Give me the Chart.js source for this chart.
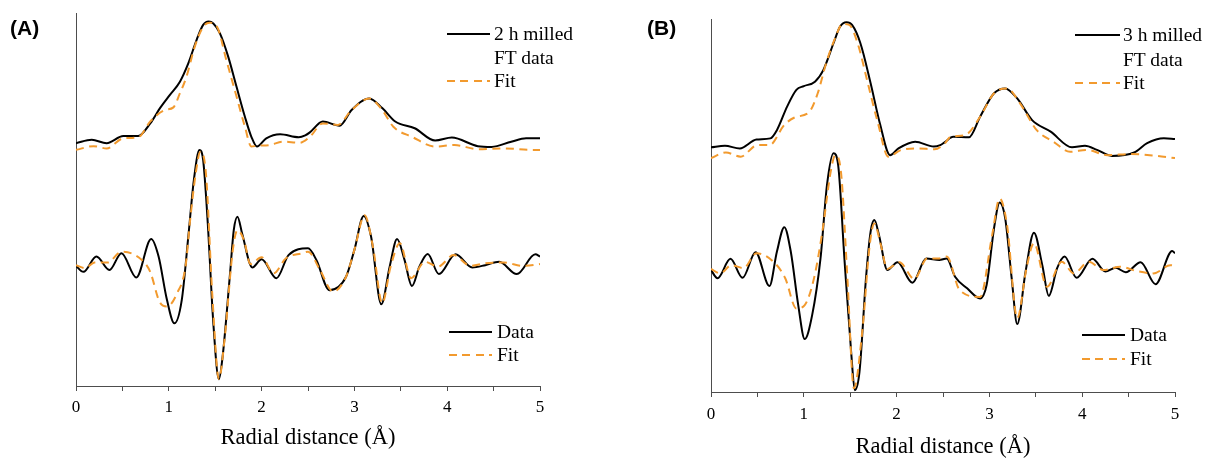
<!DOCTYPE html>
<html>
<head>
<meta charset="utf-8">
<script src="https://cdn.jsdelivr.net/npm/chart.js@4.4.1/dist/chart.umd.min.js"></script>
<style>
  html, body { margin: 0; padding: 0; background: #fff; overflow: hidden; }
  #wrap { position: relative; width: 1206px; height: 458px; }
  .panel { position: absolute; top: 0; height: 458px; }
  .tag { position: absolute; font: bold 21px "Liberation Sans", Arial, sans-serif; color: #000; line-height: 24px; }
  .leg { position: absolute; font: 19.5px "Liberation Serif", "Times New Roman", serif; color: #000; line-height: 22px; white-space: nowrap; }
  .solid { position: absolute; height: 2px; background: #000; }
  .dash { position: absolute; height: 2px; background: repeating-linear-gradient(to right, #F29A2E 0 8px, transparent 8px 13.5px); }
</style>
</head>
<body>
<div id="wrap">
  <div class="panel" style="left:0;width:600px"><canvas id="chartA"></canvas></div>
  <div class="panel" style="left:630px;width:576px"><canvas id="chartB"></canvas></div>

  <div class="tag" style="left:10px;top:16px">(A)</div>
  <div class="tag" style="left:647px;top:16px">(B)</div>

  <!-- legends panel A -->
  <div class="solid" style="left:447px;top:33px;width:43px"></div>
  <div class="leg" style="left:494px;top:23px">2 h milled</div>
  <div class="leg" style="left:494px;top:47px">FT data</div>
  <div class="dash" style="left:447px;top:80px;width:43px"></div>
  <div class="leg" style="left:494px;top:70px">Fit</div>
  <div class="solid" style="left:449px;top:331px;width:43px"></div>
  <div class="leg" style="left:497px;top:321px">Data</div>
  <div class="dash" style="left:449px;top:354px;width:43px"></div>
  <div class="leg" style="left:497px;top:344px">Fit</div>

  <!-- legends panel B -->
  <div class="solid" style="left:1075px;top:34px;width:45px"></div>
  <div class="leg" style="left:1123px;top:24px">3 h milled</div>
  <div class="leg" style="left:1123px;top:49px">FT data</div>
  <div class="dash" style="left:1075px;top:82px;width:45px"></div>
  <div class="leg" style="left:1123px;top:72px">Fit</div>
  <div class="solid" style="left:1082px;top:334px;width:43px"></div>
  <div class="leg" style="left:1130px;top:324px">Data</div>
  <div class="dash" style="left:1082px;top:358px;width:43px"></div>
  <div class="leg" style="left:1130px;top:348px">Fit</div>
</div>

<script>
// (A) 2 h milled - FT magnitude (offset upward) and real part
const aMagR = [0, 0.17, 0.33, 0.51, 0.67, 0.80, 0.905, 1.01, 1.12, 1.21, 1.30, 1.37, 1.43, 1.48, 1.55, 1.64, 1.73, 1.82, 1.89, 1.95, 2.05, 2.20, 2.40, 2.47, 2.52, 2.66, 2.84, 2.97, 3.16, 3.30, 3.44, 3.65, 3.87, 4.05, 4.33, 4.48, 4.69, 4.85, 5.0];
const aMag = [65.1, 66.0, 65.1, 67.0, 67.0, 70.4, 74.5, 78.0, 81.6, 86.5, 92.8, 96.8, 97.7, 97.2, 94.6, 88.3, 80.2, 72.2, 66.8, 64.2, 66.4, 67.5, 66.7, 67.2, 68.0, 70.9, 69.8, 74.0, 77.1, 74.5, 70.9, 69.1, 65.8, 66.6, 64.3, 64.1, 65.5, 66.4, 66.4];
const aMagFitR = [0, 0.19, 0.33, 0.51, 0.67, 0.80, 0.96, 1.05, 1.12, 1.19, 1.28, 1.37, 1.44, 1.52, 1.62, 1.73, 1.82, 1.89, 1.95, 2.09, 2.23, 2.41, 2.52, 2.66, 2.82, 2.97, 3.16, 3.30, 3.42, 3.62, 3.87, 4.08, 4.33, 4.62, 4.91, 5.0];
const aMagFit = [63.3, 64.3, 63.7, 66.4, 66.7, 70.9, 74.0, 74.7, 78.5, 82.9, 91.0, 96.3, 97.4, 96.3, 87.4, 77.6, 69.5, 64.2, 64.4, 64.6, 65.5, 65.2, 66.8, 70.4, 70.0, 74.0, 77.1, 74.0, 69.5, 66.8, 64.2, 64.6, 63.5, 63.7, 63.3, 63.3];
const aReR = [0, 0.08, 0.22, 0.36, 0.49, 0.65, 0.81, 0.89, 0.98, 1.06, 1.14, 1.21, 1.27, 1.33, 1.37, 1.42, 1.48, 1.54, 1.58, 1.66, 1.70, 1.74, 1.79, 1.90, 2.00, 2.16, 2.29, 2.50, 2.59, 2.73, 2.91, 3.00, 3.10, 3.18, 3.29, 3.38, 3.46, 3.54, 3.62, 3.70, 3.79, 3.91, 4.09, 4.27, 4.41, 4.56, 4.75, 4.95, 5.0];
const aRe = [32.2, 30.6, 34.7, 31.1, 35.6, 29.1, 39.4, 34.7, 23.1, 16.8, 23.1, 40.0, 55.2, 63.3, 60.6, 43.6, 16.8, 1.8, 7.9, 30.2, 41.8, 45.4, 40.9, 31.8, 34.0, 28.9, 35.1, 36.9, 33.8, 25.7, 29.3, 36.5, 45.6, 40.0, 21.9, 32.0, 39.4, 33.8, 26.8, 32.0, 35.4, 30.0, 35.3, 31.8, 32.4, 33.3, 30.0, 35.3, 34.7];
const aReFitR = [0, 0.10, 0.20, 0.34, 0.49, 0.71, 0.80, 0.90, 0.98, 1.09, 1.18, 1.23, 1.29, 1.34, 1.40, 1.47, 1.54, 1.60, 1.69, 1.74, 1.81, 1.88, 2.00, 2.13, 2.26, 2.44, 2.50, 2.63, 2.77, 2.91, 3.00, 3.11, 3.20, 3.30, 3.39, 3.49, 3.61, 3.76, 3.90, 4.07, 4.25, 4.41, 4.61, 4.82, 5.0];
const aReFit = [32.4, 31.6, 33.1, 33.1, 36.0, 33.8, 30.6, 22.6, 21.3, 24.9, 32.0, 44.5, 57.0, 62.8, 57.0, 23.9, 1.9, 12.3, 36.5, 41.8, 39.1, 32.7, 34.5, 30.2, 34.2, 35.6, 36.0, 31.1, 25.3, 29.3, 36.5, 45.8, 37.3, 22.2, 32.0, 38.3, 28.9, 33.3, 32.0, 35.1, 32.2, 32.9, 33.1, 32.2, 32.7];

// (B) 3 h milled
const bMagR = [0, 0.15, 0.31, 0.49, 0.64, 0.71, 0.82, 0.92, 1.0, 1.12, 1.21, 1.32, 1.39, 1.46, 1.52, 1.61, 1.72, 1.82, 1.93, 2.02, 2.20, 2.40, 2.47, 2.52, 2.61, 2.78, 2.90, 3.05, 3.17, 3.30, 3.46, 3.66, 3.89, 4.03, 4.16, 4.32, 4.56, 4.70, 4.88, 5.0];
const bMag = [65.6, 66.0, 65.3, 67.7, 68.0, 70.2, 76.5, 81.0, 82.0, 83.2, 86.3, 93.5, 97.9, 99.1, 98.4, 93.5, 82.8, 72.0, 63.5, 65.3, 67.1, 65.8, 66.2, 67.0, 68.4, 68.3, 73.8, 80.1, 81.4, 78.7, 72.9, 69.8, 65.6, 66.0, 64.9, 63.3, 64.2, 66.7, 68.0, 67.8];
const bMagFitR = [0, 0.16, 0.32, 0.50, 0.63, 0.79, 0.90, 1.06, 1.15, 1.24, 1.33, 1.42, 1.49, 1.58, 1.69, 1.80, 1.91, 2.05, 2.23, 2.41, 2.52, 2.58, 2.74, 2.90, 3.05, 3.19, 3.33, 3.51, 3.69, 3.87, 4.05, 4.27, 4.52, 4.77, 5.0];
const bMagFit = [62.7, 64.2, 63.1, 66.2, 66.2, 71.6, 73.6, 75.1, 80.1, 88.1, 94.4, 98.7, 98.4, 93.5, 82.8, 72.0, 63.1, 64.9, 65.3, 65.1, 66.7, 68.4, 68.9, 73.8, 80.1, 81.4, 77.4, 70.2, 67.1, 64.4, 64.9, 63.5, 63.8, 63.4, 62.7];
const bReR = [0, 0.07, 0.21, 0.34, 0.48, 0.63, 0.71, 0.79, 0.86, 0.94, 1.01, 1.09, 1.18, 1.25, 1.32, 1.37, 1.44, 1.51, 1.55, 1.60, 1.67, 1.72, 1.76, 1.81, 1.90, 2.01, 2.17, 2.32, 2.46, 2.54, 2.63, 2.76, 2.90, 2.97, 3.05, 3.11, 3.17, 3.24, 3.30, 3.39, 3.48, 3.57, 3.64, 3.73, 3.81, 3.94, 4.11, 4.25, 4.36, 4.47, 4.63, 4.79, 4.97, 5.0];
const bRe = [32.7, 30.5, 35.7, 30.6, 37.5, 28.4, 37.6, 44.2, 37.6, 23.3, 14.2, 20.6, 35.8, 55.5, 64.0, 60.9, 34.9, 10.8, 0.5, 5.4, 30.5, 43.0, 46.1, 42.1, 32.7, 34.8, 29.3, 35.8, 35.4, 35.8, 30.9, 27.8, 25.1, 28.7, 43.9, 50.8, 46.6, 30.5, 18.2, 32.3, 42.7, 34.0, 25.8, 33.2, 36.3, 30.6, 35.7, 32.3, 33.3, 32.1, 34.8, 28.9, 37.8, 37.2];
const bReFitR = [0, 0.10, 0.22, 0.35, 0.49, 0.69, 0.80, 0.92, 1.01, 1.11, 1.20, 1.29, 1.34, 1.40, 1.47, 1.54, 1.63, 1.71, 1.76, 1.83, 1.90, 2.03, 2.19, 2.33, 2.46, 2.54, 2.68, 2.90, 3.03, 3.11, 3.19, 3.30, 3.40, 3.48, 3.62, 3.78, 3.91, 4.07, 4.23, 4.41, 4.59, 4.77, 4.95, 5.0];
const bReFit = [33.0, 31.8, 34.0, 33.2, 37.2, 34.5, 30.5, 22.4, 23.3, 30.5, 43.0, 59.1, 63.5, 59.1, 30.5, 1.0, 16.2, 39.4, 45.2, 39.4, 33.0, 34.8, 30.3, 35.8, 35.8, 36.3, 27.3, 25.5, 42.1, 51.9, 44.8, 19.8, 33.2, 39.9, 28.2, 34.9, 31.8, 34.9, 32.7, 33.6, 32.4, 31.8, 34.0, 33.8];

const xTicks = [0, 1, 2, 3, 4, 5];
const xTitle = 'Radial distance (Å)';

const SERIF = '"Liberation Serif", "Times New Roman", serif';
const ORANGE = '#F29A2E';
const AXIS = '#4d4d4d';

function pts(xs, ys) {
  return xs.map((x, i) => ({ x: x, y: ys[i] }));
}

function dataLine(xs, ys) {
  return { data: pts(xs, ys), borderColor: '#000', borderWidth: 2, pointRadius: 0,
           cubicInterpolationMode: 'monotone', fill: false, order: 1 };
}

function fitLine(xs, ys) {
  return { data: pts(xs, ys), borderColor: ORANGE, borderWidth: 2, borderDash: [8, 5.5],
           pointRadius: 0, cubicInterpolationMode: 'monotone', fill: false, order: 0 };
}

function makePanel(id, series, pad, axisHeight, tickPad, titlePad) {
  const ctx = document.getElementById(id).getContext('2d');
  return new Chart(ctx, {
    type: 'line',
    data: { datasets: series },
    options: {
      responsive: true,
      maintainAspectRatio: false,
      animation: false,
      layout: { padding: pad },
      plugins: { legend: { display: false }, tooltip: { enabled: false } },
      scales: {
        x: {
          type: 'linear',
          min: 0, max: 5,
          afterFit: function(scale) { scale.height = axisHeight; },
          border: { display: true, color: AXIS, width: 1 },
          grid: { display: true, drawOnChartArea: false, drawTicks: true, tickLength: 5, color: AXIS },
          ticks: {
            stepSize: 0.5, autoSkip: false, maxRotation: 0, padding: tickPad, color: '#000',
            font: { family: SERIF, size: 17 },
            callback: function(v) {
              const r = Math.round(v);
              return (Math.abs(v - r) < 1e-6 && xTicks.includes(r)) ? String(r) : '';
            }
          },
          title: { display: true, text: xTitle, color: '#000',
                   font: { family: SERIF, size: 22.5, lineHeight: 1 },
                   padding: { top: 0, bottom: titlePad } }
        },
        y: {
          min: 0, max: 100,
          afterFit: function(scale) { scale.width = 0; },
          border: { display: true, color: AXIS, width: 1 },
          grid: { display: false },
          ticks: { display: false }
        }
      }
    }
  });
}

document.addEventListener('DOMContentLoaded', function() {
  makePanel('chartA', [
    fitLine(aMagFitR, aMagFit), dataLine(aMagR, aMag),
    fitLine(aReFitR, aReFit), dataLine(aReR, aRe)
  ], { left: 76, right: 60, top: 13, bottom: 0 }, 72, 6, 9);

  makePanel('chartB', [
    fitLine(bMagFitR, bMagFit), dataLine(bMagR, bMag),
    fitLine(bReFitR, bReFit), dataLine(bReR, bRe)
  ], { left: 81, right: 31, top: 19, bottom: 0 }, 66, 7, 0);
});
</script>
</body>
</html>
